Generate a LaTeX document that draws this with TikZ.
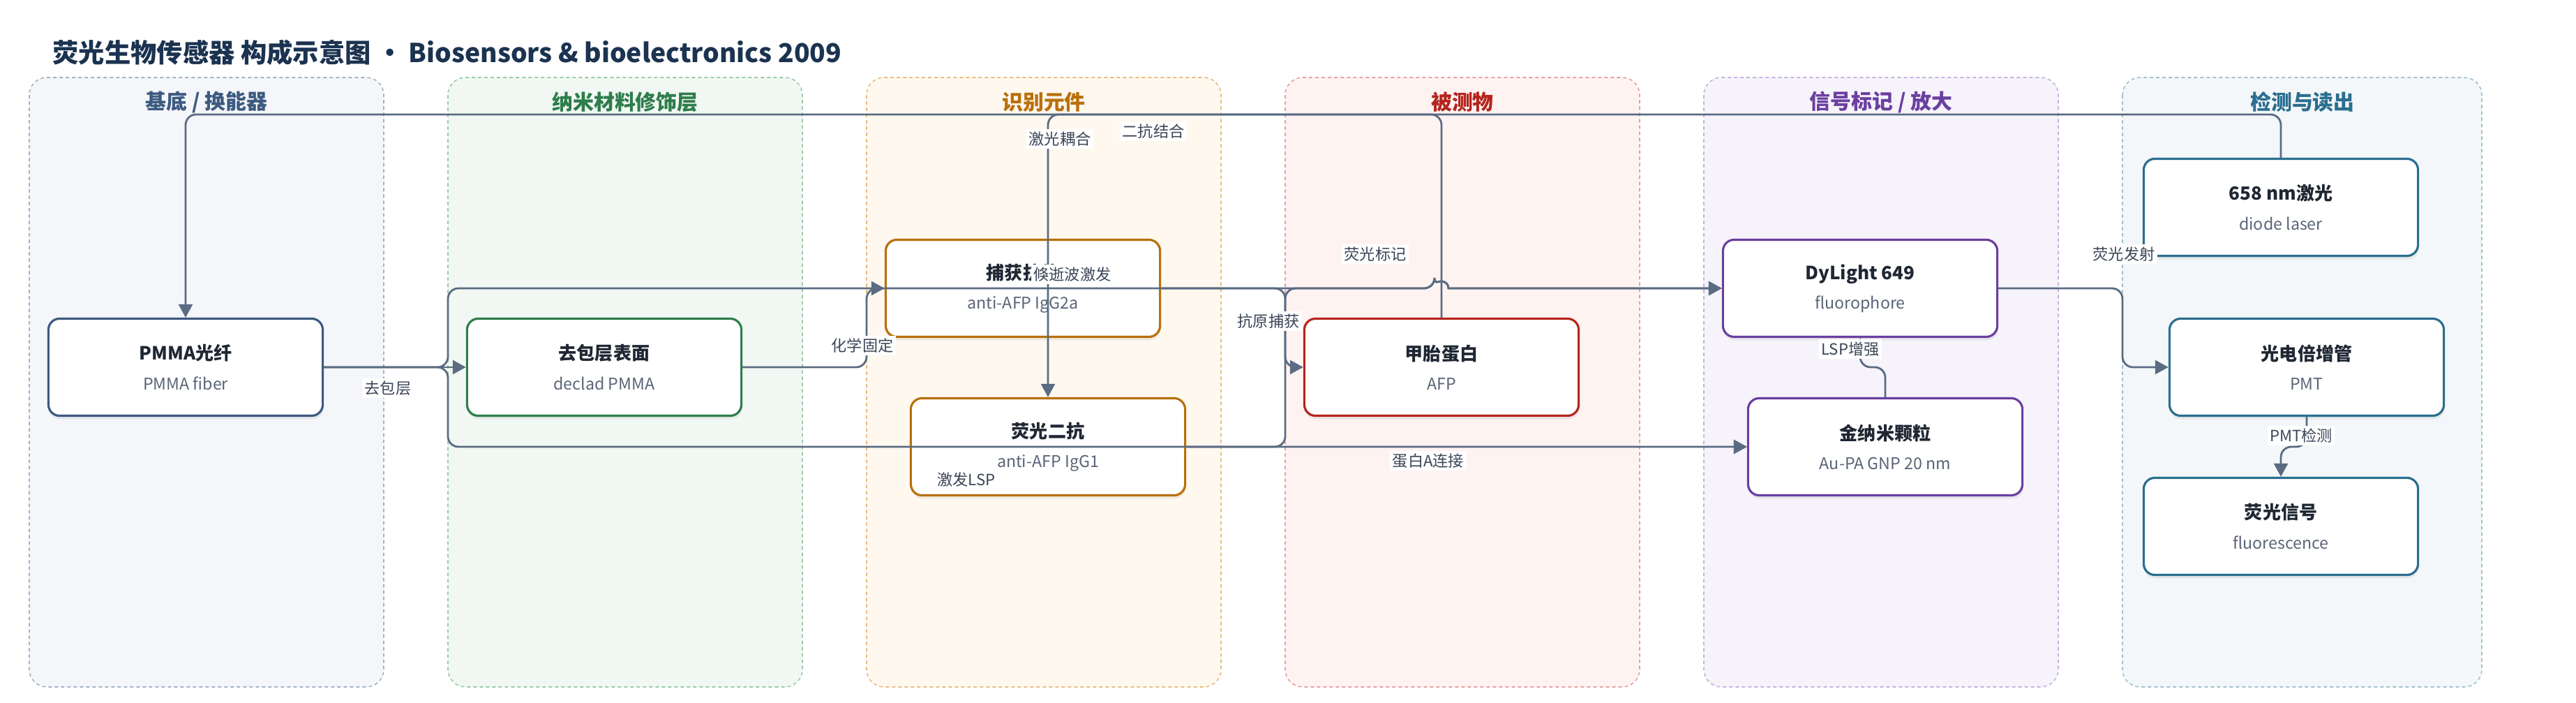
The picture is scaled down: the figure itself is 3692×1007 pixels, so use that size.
\documentclass[tikz,border=0pt]{standalone}
\usepackage{fontspec}
\setmainfont{Noto Sans CJK SC}
\usetikzlibrary{positioning,arrows.meta,shadows}

\definecolor{edgeC}{HTML}{5A6B82}
\definecolor{titleC}{HTML}{1B3350}
\definecolor{inkC}{HTML}{1F2733}
\definecolor{subC}{HTML}{5B6577}
\definecolor{labC}{HTML}{3A4556}
\definecolor{baseF}{HTML}{F4F6FA}\definecolor{baseD}{HTML}{A5B2C6}\definecolor{baseT}{HTML}{3D5A80}
\definecolor{nanoF}{HTML}{F1F8F3}\definecolor{nanoD}{HTML}{9ACBA8}\definecolor{nanoT}{HTML}{2E7D4B}
\definecolor{recoF}{HTML}{FFF8EF}\definecolor{recoD}{HTML}{E8BC7E}\definecolor{recoT}{HTML}{B8700A}
\definecolor{anaF}{HTML}{FFF3F2}\definecolor{anaD}{HTML}{E8A0A0}\definecolor{anaT}{HTML}{B3261E}
\definecolor{sigF}{HTML}{F6F3FB}\definecolor{sigD}{HTML}{C6B0E0}\definecolor{sigT}{HTML}{6B3FA0}
\definecolor{detF}{HTML}{F3F7F9}\definecolor{detD}{HTML}{A2C0CE}\definecolor{detT}{HTML}{2B6E8F}

\newcommand{\boxtext}[2]{{\bfseries\fontsize{7.4}{9.4}\selectfont #1}\\{\color{subC}\fontsize{6.6}{9.4}\selectfont #2}}

\begin{document}
\begin{tikzpicture}[x=0.01cm, y=-0.01cm,
	lane/.style={dash pattern=on 0.05cm off 0.04cm, line width=0.45pt, rounded corners=0.25cm},
	lanetitle/.style={font=\bfseries\fontsize{8.5}{10}\selectfont},
	box/.style={draw, fill=white, line width=0.9pt, rounded corners=0.16cm, minimum width=3.93cm, minimum height=1.39cm, align=center, text=inkC, drop shadow={shadow xshift=0.01cm, shadow yshift=-0.05cm, opacity=0.12}},
	edge/.style={draw=edgeC, line width=0.8pt, rounded corners=0.15cm, -{Triangle[length=0.19cm,width=0.2cm]}},
	lab/.style={fill=white, text=labC, inner sep=1pt, font=\fontsize{6.3}{7}\selectfont}]
	\useasboundingbox (0,0) rectangle (3692,1007);

	\draw[lane, draw=baseD, fill=baseF] (42,111) rectangle (550,984);
	\draw[lane, draw=nanoD, fill=nanoF] (642,111) rectangle (1150,984);
	\draw[lane, draw=recoD, fill=recoF] (1242,111) rectangle (1750,984);
	\draw[lane, draw=anaD, fill=anaF] (1842,111) rectangle (2350,984);
	\draw[lane, draw=sigD, fill=sigF] (2442,111) rectangle (2950,984);
	\draw[lane, draw=detD, fill=detF] (3042,111) rectangle (3557,984);

	\node[lanetitle, text=baseT] (t1) at (296,146) {基底 / 换能器};
	\node[lanetitle, text=nanoT] (t2) at (896,146) {纳米材料修饰层};
	\node[lanetitle, text=recoT] (t3) at (1496,146) {识别元件};
	\node[lanetitle, text=anaT] (t4) at (2096,146) {被测物};
	\node[lanetitle, text=sigT] (t5) at (2696,146) {信号标记 / 放大};
	\node[lanetitle, text=detT] (t6) at (3300,146) {检测与读出};

	\node[anchor=west, inner sep=0, text=titleC, font=\bfseries\fontsize{10.6}{13}\selectfont] (title) at (75,75) {荧光生物传感器 构成示意图 • Biosensors \& bioelectronics 2009};

	\node[box, draw=baseT] (fiber) at (266,526) {\boxtext{PMMA光纤}{PMMA fiber}};
	\node[box, draw=nanoT] (declad) at (866,526) {\boxtext{去包层表面}{declad PMMA}};
	\node[box, draw=recoT] (capture) at (1466,413) {\boxtext{捕获抗体}{anti-AFP IgG2a}};
	\node[box, draw=recoT] (second) at (1502,640) {\boxtext{荧光二抗}{anti-AFP IgG1}};
	\node[box, draw=anaT] (afp) at (2066,526) {\boxtext{甲胎蛋白}{AFP}};
	\node[box, draw=sigT] (dye) at (2666,413) {\boxtext{DyLight 649}{fluorophore}};
	\node[box, draw=sigT] (gnp) at (2702,640) {\boxtext{金纳米颗粒}{Au-PA GNP 20 nm}};
	\node[box, draw=detT] (laser) at (3269,297) {\boxtext{658 nm激光}{diode laser}};
	\node[box, draw=detT] (pmt) at (3306,526) {\boxtext{光电倍增管}{PMT}};
	\node[box, draw=detT] (signal) at (3269,754) {\boxtext{荧光信号}{fluorescence}};

	\draw[edge] (fiber.east) -- (declad.west);
	\draw[edge] (declad.east) -- (1242,526) -- (1242,413) -- (capture.west);
	\draw[edge] (capture.east) -- (1842,413) -- (1842,526) -- (afp.west);
	\draw[edge] (afp.north) -- (2066,164) -- (1502,164) -- (second.north);
	\draw[edge] (laser.north) -- (3269,164) -- (266,164) -- (fiber.north);
	\draw[edge] (fiber.east) -- (642,526) -- (642,413) -- (2000,413) -- (2056,413) [sharp corners] arc[start angle=180, end angle=0, radius=0.1cm] -- (dye.west);
	\draw[edge] (fiber.east) -- (642,526) -- (642,640) -- (gnp.west);
	\draw[edge] (second.east) -- (1842,640) -- (1842,413) -- (2000,413) -- (2056,413) [sharp corners] arc[start angle=180, end angle=0, radius=0.1cm] -- (dye.west);
	\draw[edge] (second.east) -- (gnp.west);
	\draw[edge] (gnp.north) -- (2702,526) -- (2666,526) -- (dye.south);
	\draw[edge] (dye.east) -- (3042,413) -- (3042,526) -- (pmt.west);
	\draw[edge] (pmt.south) -- (3306,640) -- (3269,640) -- (signal.north);

	\node[lab] (lb1) at (556,556) {去包层};
	\node[lab] (lb2) at (1236,495) {化学固定};
	\node[lab] (lb3) at (1818,460) {抗原捕获};
	\node[lab] (lb4) at (1653,188) {二抗结合};
	\node[lab] (lb5) at (1519,199) {激光耦合};
	\node[lab] (lb6) at (1537,393) {倏逝波激发};
	\node[lab] (lb7) at (1385,687) {激发LSP};
	\node[lab] (lb8) at (1971,364) {荧光标记};
	\node[lab] (lb9) at (2047,660) {蛋白A连接};
	\node[lab] (lb10) at (2652,500) {LSP增强};
	\node[lab] (lb11) at (3044,364) {荧光发射};
	\node[lab] (lb12) at (3298,624) {PMT检测};
\end{tikzpicture}
\end{document}
